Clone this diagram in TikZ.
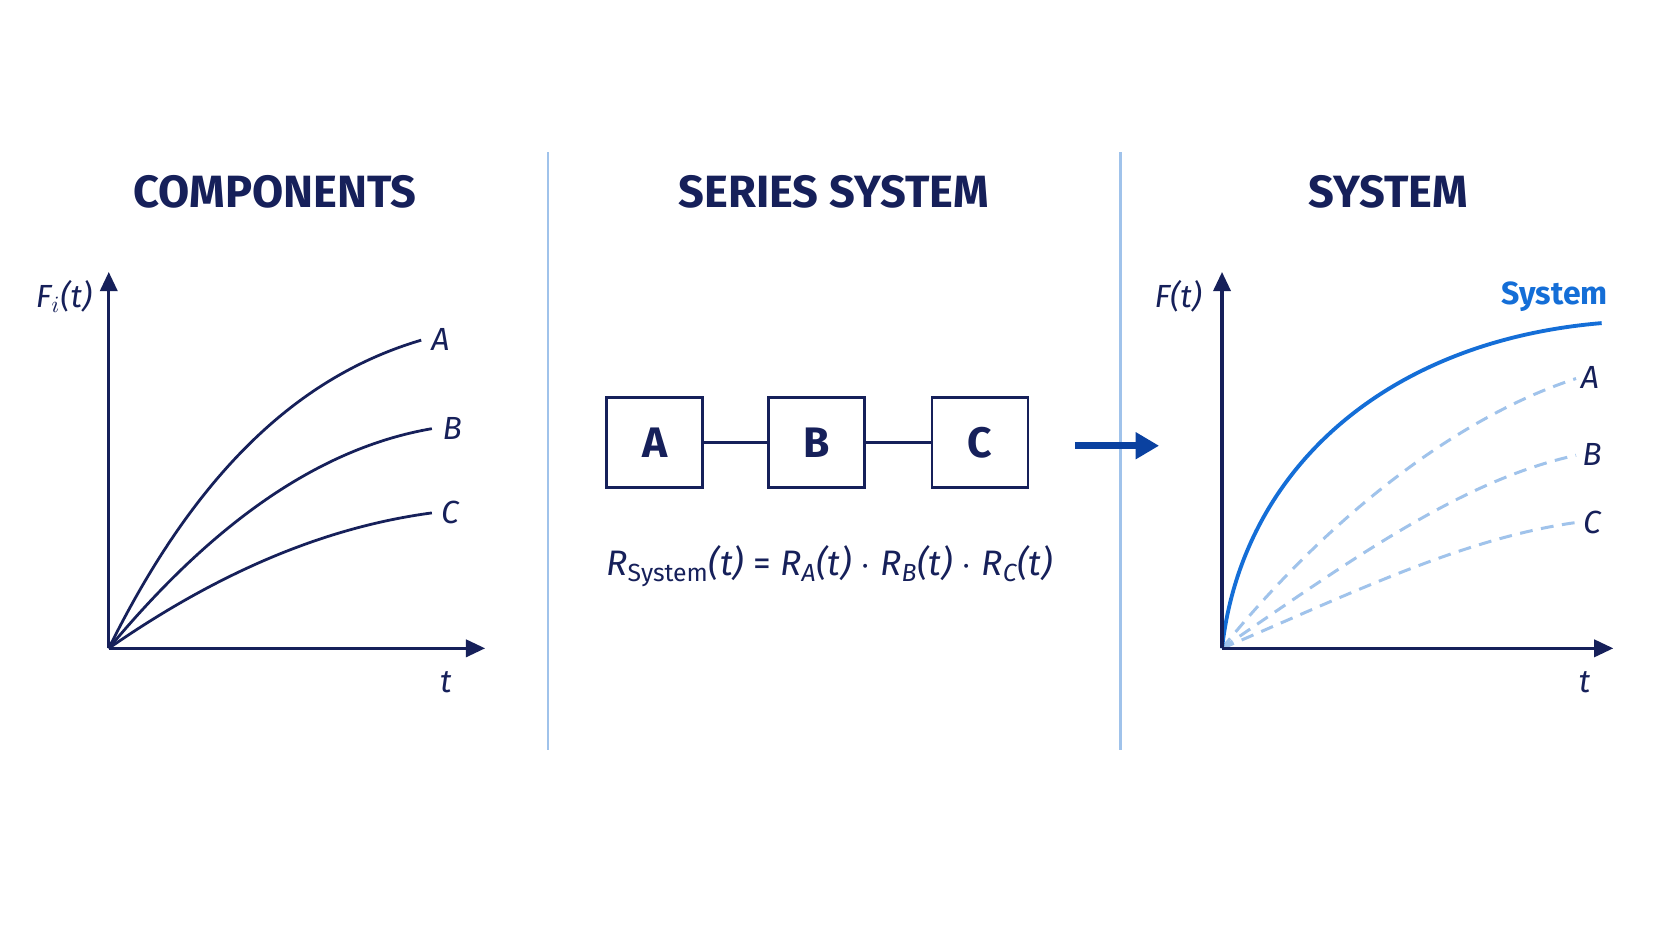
\documentclass[tikz,border=0pt]{standalone}
\usepackage{fontspec}
\setmainfont{Fira Sans}
\usetikzlibrary{arrows.meta}
\definecolor{navy}{RGB}{22,32,90}
\definecolor{sysblue}{RGB}{20,110,215}
\definecolor{lblue}{RGB}{160,195,235}
\definecolor{arrblue}{RGB}{10,65,160}
\begin{document}
\begin{tikzpicture}[x=0.5pt,y=-0.5pt,
  ax/.style={navy,line width=1.6pt,-{Triangle[length=9pt,width=8pt]}},
  cur/.style={navy,line width=1.3pt},
  dsh/.style={lblue,line width=1.4pt,dash pattern=on 6pt off 4pt},
  title/.style={font=\fontsize{21.2}{25}\selectfont\bfseries,text=navy},
  lab/.style={font=\fontsize{15}{17}\selectfont\itshape,text=navy},
  box/.style={draw=navy,line width=1.3pt,minimum width=45pt,minimum height=42pt,font=\fontsize{20}{24}\selectfont\bfseries,text=navy},
  div/.style={lblue,line width=1.3pt}]
\useasboundingbox[fill=white] (0,0) rectangle (1568,882);
% titles
\node[title] (t1) at (258,180) {COMPONENTS};
\node[title] (t2) at (782,180) {SERIES SYSTEM};
\node[title] (t3) at (1302,180) {SYSTEM};
% dividers
\coordinate (d1a) at (514,143); \coordinate (d1b) at (514,703);
\coordinate (d2a) at (1051,143); \coordinate (d2b) at (1051,703);
\draw[div] (d1a) -- (d1b);
\draw[div] (d2a) -- (d2b);
% left plot
\coordinate (o1) at (102,608);
\coordinate (y1) at (102,255);
\coordinate (x1) at (455,608);
\draw[ax] (o1) -- (y1);
\draw[ax] (o1) -- (x1);
\draw[cur] (o1) .. controls (190,430) and (290,350) .. (395,319);
\draw[cur] (o1) .. controls (200,490) and (300,420) .. (405,402);
\draw[cur] (o1) .. controls (200,540) and (300,495) .. (405,481);
\node[lab] (la) at (413,318) {A};
\node[lab] (lb) at (424,402) {B};
\node[lab] (lc) at (422,481) {C};
\node[lab] (fi) at (60,278) {F$_i$(t)};
\node[lab] (tl) at (418,640) {t};
% middle
\node[box] (A) at (614,415) {A};
\node[box] (B) at (766,415) {B};
\node[box] (C) at (919,415) {C};
\draw[navy,line width=1.3pt] (A) -- (B);
\draw[navy,line width=1.3pt] (B) -- (C);
\node[font=\fontsize{16.6}{20}\selectfont,text=navy] (eq) at (778,531)
 {\itshape R\textsubscript{\upshape System}(t) \upshape= \itshape R\textsubscript{A}(t) \upshape$\cdot$ \itshape R\textsubscript{B}(t) \upshape$\cdot$ \itshape R\textsubscript{C}(t)};
\coordinate (ar1) at (1008,418); \coordinate (ar2) at (1087,418);
\draw[arrblue,line width=3.5pt,-{Triangle[length=11pt,width=12pt]}] (ar1) -- (ar2);
% right plot
\coordinate (o2) at (1146,608);
\coordinate (y2) at (1146,255);
\coordinate (x2) at (1513,608);
\draw[dsh] (o2) .. controls (1250,480) and (1370,390) .. (1478,355);
\draw[dsh] (o2) .. controls (1260,530) and (1370,450) .. (1478,427);
\draw[dsh] (o2) .. controls (1260,560) and (1370,505) .. (1478,490);
\draw[sysblue,line width=1.8pt] (o2) .. controls (1165,440) and (1300,320) .. (1502,303);
\draw[ax] (o2) -- (y2);
\draw[ax] (o2) -- (x2);
\node[font=\fontsize{15}{17}\selectfont\bfseries,text=sysblue] (sl) at (1458,278) {System};
\node[lab] (ra) at (1491,354) {A};
\node[lab] (rb) at (1493,426) {B};
\node[lab] (rc) at (1493,490) {C};
\node[lab] (ft) at (1105,278) {F(t)};
\node[lab] (tr) at (1486,640) {t};
\end{tikzpicture}
\end{document}
